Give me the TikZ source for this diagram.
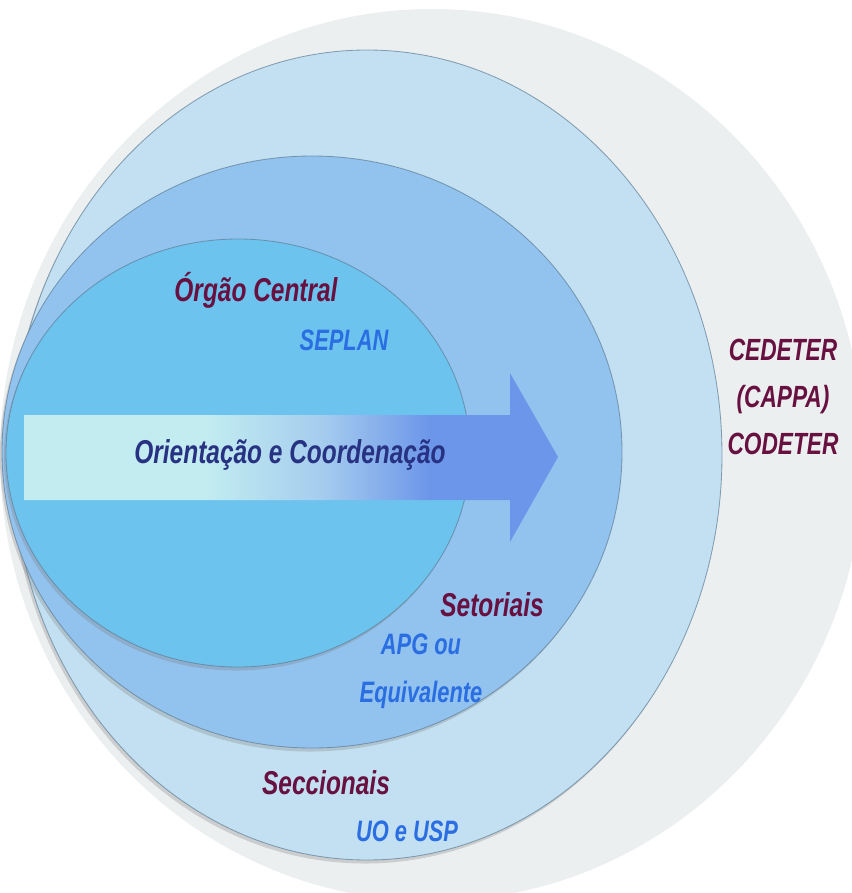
\documentclass[tikz,border=0pt]{standalone}
\usepackage{fontspec}
\newfontfamily\labelfont{Liberation Sans}[FakeStretch=0.74]
\usetikzlibrary{positioning,shadows}

\definecolor{outergray}{RGB}{236,239,240}
\definecolor{seccblue}{RGB}{194,224,241}
\definecolor{setblue}{RGB}{146,194,238}
\definecolor{centblue}{RGB}{108,196,238}
\definecolor{rimline}{RGB}{95,125,150}
\definecolor{arrowlight}{RGB}{194,236,240}
\definecolor{arrowmid}{RGB}{165,204,238}
\definecolor{arrowblue}{RGB}{108,150,234}
\definecolor{unitred}{RGB}{104,16,64}
\definecolor{unitblue}{RGB}{42,110,226}
\definecolor{flownavy}{RGB}{40,50,130}

\pgfdeclarehorizontalshading{arrowshade}{100bp}{color(0bp)=(arrowlight); color(42bp)=(arrowlight); color(53bp)=(arrowmid); color(63bp)=(arrowblue); color(100bp)=(arrowblue)}

\begin{document}
\begin{tikzpicture}[x=0.025cm, y=-0.025cm]
\tikzset{
    every node/.style = {inner sep=0pt, align=center},
    level/.style = {draw=rimline, draw opacity=.7, line width=.6pt,
        drop shadow={shadow xshift=-1.5pt, shadow yshift=-2.5pt, opacity=.3}},
    unitname/.style = {text=unitred, font=\labelfont\bfseries\itshape\fontsize{23.5}{27}\selectfont},
    unitsub/.style = {text=unitblue, font=\labelfont\bfseries\itshape\fontsize{21}{34}\selectfont},
    flowtext/.style = {text=flownavy, font=\labelfont\bfseries\itshape\fontsize{23.5}{27}\selectfont},
    council/.style = {text=unitred, font=\labelfont\bfseries\itshape\fontsize{21.8}{33.4}\selectfont}
}
\useasboundingbox (0,0) rectangle (851,893);

% -------------------------------------------------------
\fill[outergray] (432,455) ellipse [x radius=432, y radius=446];
\path[level, fill=seccblue] (367,455) ellipse [x radius=355, y radius=405];
\path[level, fill=setblue] (312,452) ellipse [x radius=310, y radius=296];
\path[level, fill=centblue] (238,453) ellipse [x radius=232, y radius=214];

\shade[shading=arrowshade] (24,415) -- (510,415) -- (510,373) -- (558,457)
    -- (510,542) -- (510,500) -- (24,500) -- cycle;

% -------------------------------------------------------
\node[unitname] (central) at (256,290) {Órgão Central};
\node[unitsub] (seplan) at (344,340) {SEPLAN};

\node[flowtext] (flow) at (290,455) {Orientação e Coordenação};

\node[council] (councils) at (783,397) {CEDETER\\(CAPPA)\\CODETER};

\node[unitname] (setoriais) at (492,605) {Setoriais};
\node[unitsub] (apg) at (421,671) {APG ou\\Equivalente};

\node[unitname] (seccionais) at (326,783) {Seccionais};
\node[unitsub] (uo) at (407,831) {UO e USP};
\end{tikzpicture}
\end{document}
